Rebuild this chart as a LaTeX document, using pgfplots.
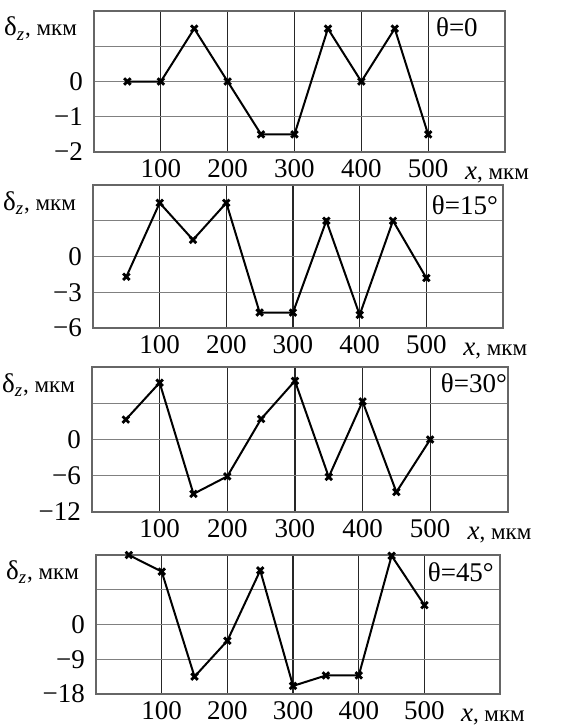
\documentclass[border=0pt]{standalone}
\usepackage{fontspec}
\setmainfont{Liberation Serif}
\usepackage{pgfplots}
\usepackage{pgfplotstable}
\pgfplotsset{compat=1.18}

\newcommand{\fs}{\fontsize{13.5}{16}\selectfont}
\newcommand{\fu}{\fontsize{11.5}{14}\selectfont}

% x in mkm, delta_z in mkm
\pgfplotstableread{
x d
50 0
100 0
150 1.5
200 0
250 -1.5
300 -1.5
350 1.5
400 0
450 1.5
500 -1.5
}\dataA
\pgfplotstableread{
x d
50 -1.7
100 4.5
150 1.4
200 4.5
250 -4.7
300 -4.7
350 3
400 -4.9
450 3
500 -1.8
}\dataB
\pgfplotstableread{
x d
50 3.3
100 9.4
150 -9
200 -6.1
250 3.4
300 9.7
350 -6.2
400 6.3
450 -8.7
500 0
}\dataC
\pgfplotstableread{
x d
50 18
100 13.7
150 -13.5
200 -4.2
250 14
300 -15.9
350 -13.2
400 -13.2
450 17.8
500 5
}\dataD

\pgfplotsset{
  panel/.style={
    scale only axis, anchor=north west,
    xmin=0, xmax=615,
    xtick={100,200,300,400,500},
    xticklabels={100,200,300,400,500},
    major tick length=0pt,
    grid=major,
    major x grid style={black!85, line width=0.65pt},
    major y grid style={black!50, line width=0.6pt},
    axis line style={black!60, line width=0.6pt},
    tick label style={font=\fs},
    yticklabel style={xshift=-2pt},
    clip=false,
  },
  curve/.style={black, line width=1pt, mark=x, mark size=2.3pt,
    mark options={line width=1.4pt}},
}

\newcommand{\dz}{\node[anchor=east, xshift=-5pt] at (rel axis cs:0,0.875) {\fs δ\textsubscript{\textit{z}}\fu, мкм};}
\newcommand{\xl}{\node[anchor=base west, yshift=-13.5pt] at (rel axis cs:0.886,0) {\fs\textit{x}\fu, мкм};}

\begin{document}
\begin{tikzpicture}
\path[use as bounding box] (0,0) rectangle (285.5pt,-362.5pt);

\begin{axis}[panel, at={(47pt,-5.5pt)}, width=205.5pt, height=70.5pt,
  ymin=-2, ymax=2, ytick={-2,-1,0,1,2}, yticklabels={−2,−1,0,{},{}}]
\addplot[curve] table[x=x, y=d] {\dataA};
\dz \xl
\node[font=\fs] at (rel axis cs:0.883,0.886) {θ=0};
\end{axis}

\begin{axis}[panel, at={(46.5pt,-92.5pt)}, width=205pt, height=71.5pt,
  ymin=-6, ymax=6, ytick={-6,-3,0,3,6}, yticklabels={−6,−3,0,{},{}}]
\addplot[curve] table[x=x, y=d] {\dataB};
\dz \xl
\node[font=\fs] at (rel axis cs:0.907,0.86) {θ=15°};
\end{axis}

\begin{axis}[panel, at={(46pt,-183.5pt)}, width=208pt, height=72.5pt,
  ymin=-12, ymax=12, ytick={-12,-6,0,6,12}, yticklabels={−12,−6,0,{},{}}]
\addplot[curve] table[x=x, y=d] {\dataC};
\dz \xl
\node[font=\fs] at (rel axis cs:0.918,0.89) {θ=30°};
\end{axis}

\begin{axis}[panel, at={(48pt,-277.5pt)}, width=202pt, height=69.5pt,
  ymin=-18, ymax=18, ytick={-18,-9,0,9,18}, yticklabels={−18,−9,0,{},{}}]
\addplot[curve] table[x=x, y=d] {\dataD};
\dz \xl
\node[font=\fs] at (rel axis cs:0.903,0.878) {θ=45°};
\end{axis}
\end{tikzpicture}
\end{document}
